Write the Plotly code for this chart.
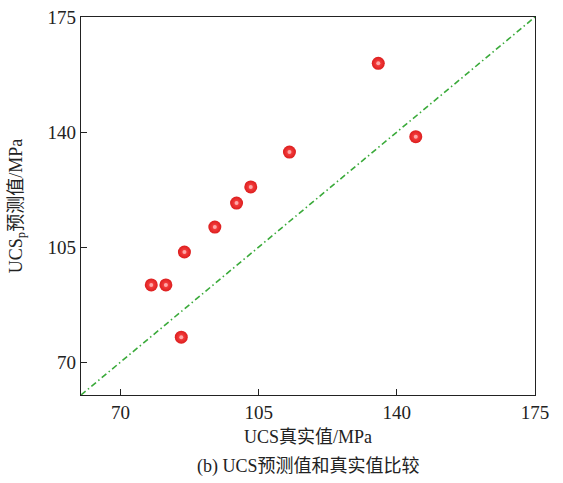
import plotly.graph_objects as go

# UCS measured vs. predicted values (MPa)
ucs_true = [77.8, 81.5, 85.4, 86.2, 93.9, 99.4, 103.0, 112.8, 135.3, 144.8]
ucs_pred = [93.5, 93.5, 77.6, 103.5, 111.1, 118.4, 123.3, 133.9, 160.9, 138.6]

axis_min, axis_max = 60, 175
tick_vals = [70, 105, 140, 175]
ref_line = [axis_min, axis_max]

font_family = "Liberation Serif, Times New Roman, Noto Sans CJK SC, serif"

fig = go.Figure()

# 1:1 reference line
fig.add_trace(go.Scatter(
    x=ref_line, y=ref_line, mode="lines",
    line=dict(color="#3aaa3a", width=1.6, dash="6px,3px,1.5px,3px"),
    hoverinfo="skip", showlegend=False,
))

# shaded red spheres
fig.add_trace(go.Scatter(
    x=ucs_true, y=ucs_pred, mode="markers",
    marker=dict(
        size=13, color="#dc1e1e",
        gradient=dict(type="radial", color="#ff4a4a"),
        line=dict(width=0),
    ),
    showlegend=False,
))
fig.add_trace(go.Scatter(
    x=ucs_true, y=ucs_pred, mode="markers",
    marker=dict(size=4, color="rgba(255,200,200,0.75)", line=dict(width=0)),
    hoverinfo="skip", showlegend=False,
))

axis_common = dict(
    range=[axis_min, axis_max], tickvals=tick_vals,
    ticks="inside", ticklen=6, tickwidth=1.2, tickcolor="#222",
    showline=True, linecolor="#222", linewidth=1.4, mirror=True,
    showgrid=False, zeroline=False, automargin=False,
    tickfont=dict(family=font_family, size=19, color="#222"),
)

fig.update_layout(
    width=563, height=483,
    margin=dict(l=81, r=28, t=17, b=88),
    paper_bgcolor="white", plot_bgcolor="white",
    font=dict(family=font_family, color="#222"),
    xaxis=dict(**axis_common,
               title=dict(text="UCS真实值/MPa", font=dict(size=18), standoff=8)),
    yaxis=dict(**axis_common,
               title=dict(text="UCS<sub>p</sub>预测值/MPa", font=dict(size=18), standoff=20)),
    annotations=[dict(
        text="(b) UCS预测值和真实值比较", xref="paper", yref="paper",
        x=0.5, y=-0.188, yanchor="middle", showarrow=False,
        font=dict(family=font_family, size=18, color="#222"),
    )],
)

fig.write_html("out.html")
